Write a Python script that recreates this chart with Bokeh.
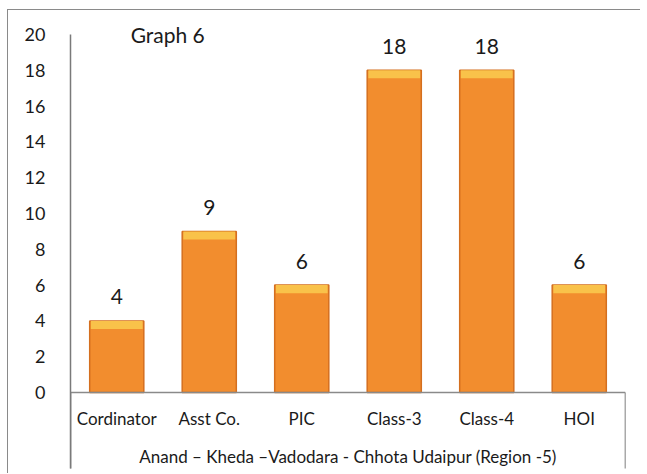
from bokeh.plotting import figure
from bokeh.models import FactorRange, Range1d, FixedTicker, Label, ColumnDataSource
from bokeh.embed import file_html
from bokeh.resources import INLINE

categories = ["Cordinator", "Asst Co.", "PIC", "Class-3", "Class-4", "HOI"]
counts = [4, 9, 6, 18, 18, 6]
y_ticks = [0, 2, 4, 6, 8, 10, 12, 14, 16, 18, 20]
title_text = "Graph 6"
x_title = "Anand \u2013 Kheda \u2013Vadodara - Chhota Udaipur (Region -5)"

FONT = "Lato"
bevel = 0.45
Y_TOP = 21.34
Y_BOTTOM = -4.58
TABLE_BOTTOM = -4.25

src = ColumnDataSource(dict(
    cat=categories,
    val=counts,
    bev=[v - bevel for v in counts],
    lab=[str(v) for v in counts],
))

p = figure(width=633, height=464, output_backend="svg", toolbar_location=None,
           x_range=FactorRange(factors=categories, range_padding=0),
           y_range=Range1d(Y_BOTTOM, Y_TOP),
           min_border_left=62, min_border_right=16, min_border_top=0, min_border_bottom=0)
p.styles = {"margin-top": "9px", "margin-left": "7px",
            "border-top": "1px solid #8a8a8a", "border-left": "1px solid #8a8a8a"}
p.outline_line_color = None
p.grid.visible = False
p.background_fill_color = "white"
p.border_fill_color = "white"

# bars
p.vbar(x="cat", top="val", bottom=0, width=0.585, source=src,
       fill_color="#F28D2E", line_color="#D46F1F", line_width=1.5)
p.vbar(x="cat", top="val", bottom="bev", width=0.56, source=src,
       fill_color="#F9C24A", line_color=None)
p.text(x="cat", y="val", text="lab", source=src, x_offset=0, y_offset=-24,
       text_align="center", text_baseline="middle", text_font_size="21px",
       text_font={"value": FONT}, text_color="#1a1a1a")

# lines below the axis (category table edges)
n = len(categories)
p.segment(x0=[0, n], y0=[0, 0], x1=[0, n], y1=[TABLE_BOTTOM, TABLE_BOTTOM],
          line_color="#555555", line_width=1.5)

# axes
p.yaxis.ticker = FixedTicker(ticks=y_ticks)
p.yaxis.bounds = (TABLE_BOTTOM, 20)
p.yaxis.major_tick_line_color = None
p.yaxis.minor_tick_line_color = None
p.yaxis.axis_line_color = "#7a7a7a"
p.yaxis.axis_line_width = 1.5
p.yaxis.major_label_standoff = 19
p.yaxis.major_label_text_font = FONT
p.yaxis.major_label_text_font_size = "18px"
p.yaxis.major_label_text_color = "#1a1a1a"

p.xaxis.fixed_location = 0
p.xaxis.major_tick_line_color = None
p.xaxis.minor_tick_line_color = None
p.xaxis.axis_line_color = "#8a8a8a"
p.xaxis.axis_line_width = 1.5
p.xaxis.major_label_standoff = 9
p.xaxis.major_label_text_font = FONT
p.xaxis.major_label_text_font_size = "17px"
p.xaxis.major_label_text_color = "#1a1a1a"
p.xaxis.axis_label = x_title
p.xaxis.axis_label_standoff = 14
p.xaxis.axis_label_text_font = FONT
p.xaxis.axis_label_text_font_style = "normal"
p.xaxis.axis_label_text_font_size = "17px"
p.xaxis.axis_label_text_color = "#1a1a1a"

p.add_layout(Label(x=0.65, y=20, text=title_text, text_baseline="middle",
                   text_font=FONT, text_font_size="21px", text_color="#1a1a1a"))

open("out.html", "w").write(file_html(p, INLINE))
